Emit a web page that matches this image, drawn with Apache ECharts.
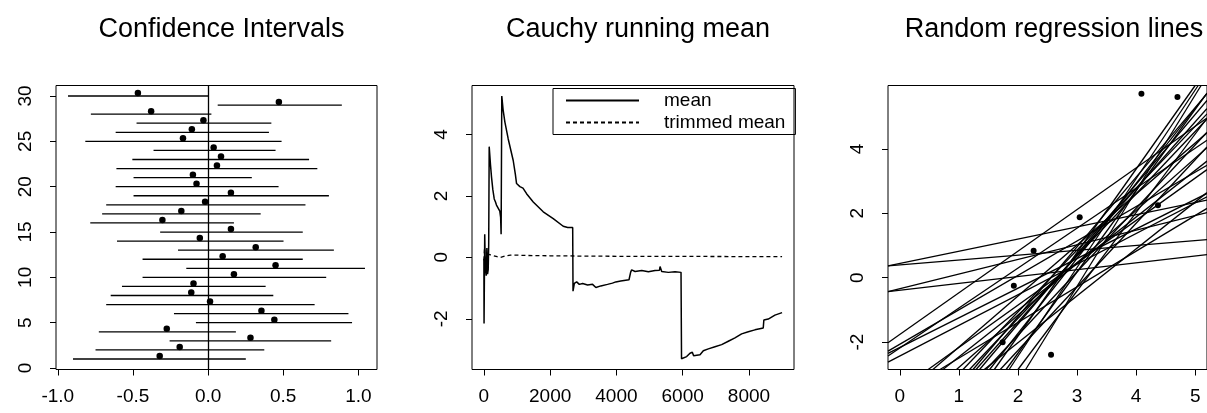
<!DOCTYPE html>
<html>
<head>
<meta charset="utf-8">
<script src="https://cdn.jsdelivr.net/npm/echarts@6.0.0/dist/echarts.min.js"></script>
<style>
  html, body { margin: 0; padding: 0; background: #fff; }
  #chart { width: 1207px; height: 413px; }
</style>
</head>
<body>
<div id="chart"></div>
<script>
// panel 1 : confidence intervals, sample 1..30 (bottom to top)
var ciLower = [-0.899, -0.749, -0.256, -0.727, -0.081, -0.227, -0.678, -0.648, -0.573, -0.436,
               -0.145, -0.436, -0.200, -0.606, -0.319, -0.784, -0.705, -0.678, -0.496, -0.615,
               -0.496, -0.610, -0.504, -0.363, -0.817, -0.615, -0.476, -0.780, 0.064, -0.932];
var ciUpper = [0.251, 0.374, 0.819, 0.185, 0.958, 0.934, 0.709, 0.434, 0.383, 0.786,
               1.044, 0.630, 0.837, 0.502, 0.630, 0.172, 0.350, 0.648, 0.804, 0.469,
               0.291, 0.727, 0.672, 0.449, 0.489, 0.405, 0.421, 0.022, 0.890, 0.000];
var ciMean = [-0.322, -0.189, 0.282, -0.275, 0.441, 0.355, 0.013, -0.112, -0.097, 0.172,
              0.449, 0.097, 0.317, -0.055, 0.152, -0.304, -0.178, -0.020, 0.152, -0.077,
              -0.101, 0.059, 0.086, 0.037, -0.167, -0.108, -0.031, -0.379, 0.471, -0.467];
var ciTicksX = [-1, -0.5, 0, 0.5, 1];
var ciTicksY = [0, 5, 10, 15, 20, 25, 30];

// panel 2 : cauchy running mean
var meanPts = [[0, -0.05], [5, -2.15], [25, 0.75], [40, -0.2], [70, -0.6], [90, 0.3], [110, -0.55],
  [130, -0.4], [145, 0.4], [160, 3.6], [200, 3.0], [231, 2.6], [270, 2.2], [312, 1.9], [350, 1.8],
  [380, 1.7], [430, 1.6], [480, 1.5], [505, 1.3], [520, 0.75], [540, 5.25], [580, 4.8], [634, 4.4],
  [734, 3.85], [885, 3.15], [950, 2.7], [986, 2.4], [1086, 2.3], [1180, 2.25], [1288, 2.07],
  [1489, 1.8], [1791, 1.48], [2093, 1.26], [2394, 1.01], [2530, 0.97], [2680, 0.97], [2690, -1.1],
  [2730, -0.85], [2800, -0.8], [2880, -0.88], [2980, -0.85], [3130, -0.9], [3280, -0.88],
  [3380, -0.98], [3530, -0.93], [3730, -0.88], [3880, -0.84], [3980, -0.8], [4130, -0.77],
  [4380, -0.73], [4430, -0.48], [4460, -0.41], [4563, -0.46], [4764, -0.43], [4965, -0.47],
  [5166, -0.43], [5300, -0.42], [5317, -0.3], [5367, -0.46], [5568, -0.49], [5769, -0.47],
  [5950, -0.49], [5965, -3.3], [6020, -3.31], [6120, -3.23], [6221, -3.12], [6291, -3.09],
  [6330, -3.2], [6523, -3.17], [6623, -3.04], [6774, -2.98], [6975, -2.91], [7176, -2.84],
  [7377, -2.73], [7578, -2.62], [7779, -2.49], [7980, -2.42], [8181, -2.36], [8432, -2.3],
  [8450, -2.04], [8583, -2.01], [8784, -1.88], [9000, -1.8]];
var trimPts = [[0, -0.1], [20, 0.3], [40, -0.3], [60, -0.5], [80, -0.2], [100, -0.45], [120, 0.1],
  [150, 0.12], [200, 0.08], [300, 0.05], [400, 0.02], [500, 0.0], [600, 0.03], [800, 0.07],
  [1000, 0.07], [1300, 0.06], [2000, 0.05], [3000, 0.04], [4500, 0.03], [6000, 0.03], [9000, 0.02]];
var cauchyTicksX = [0, 2000, 4000, 6000, 8000];
var cauchyTicksY = [-2, 0, 2, 4];

// panel 3 : random regression lines (intercept a, slope b)
var ptX = [1.74, 1.93, 2.265, 2.56, 3.045, 4.09, 4.37, 4.70];
var ptY = [-2.0, -0.25, 0.835, -2.39, 1.88, 5.71, 2.25, 5.61];
var lineA = [0.445, 0.40, -0.387, -0.339, -1.761, -2.066, -2.166, -2.182, -2.430, -3.481,
             -3.737, -3.603, -3.907, -4.410, -4.906, -5.133, -5.533, -5.524, -5.781, -5.726,
             -6.393, -7.0, -7.395, -7.949, -7.726, -9.176, -6.206, -4.933];
var lineB = [0.378, 0.151, 0.213, 0.454, 1.293, 1.069, 0.920, 1.241, 0.951, 1.315,
             1.584, 1.107, 1.448, 1.625, 1.922, 1.935, 2.164, 2.073, 2.171, 1.970,
             2.331, 2.594, 2.525, 2.756, 2.438, 2.970, 1.974, 1.457];
var regTicksX = [0, 1, 2, 3, 4, 5];
var regTicksY = [-2, 0, 2, 4];

var FONT = 'Liberation Sans, Arial, sans-serif';
var X3 = [-0.2, 5.2], Y3 = [-2.85, 5.97];

function xAx(idx, min, max, ticks, fmt) {
    return {
        type: 'value', gridIndex: idx, min: min, max: max,
        axisLine: {show: false, onZero: false},
        splitLine: {show: false},
        axisTick: {show: true, length: 6, customValues: ticks, lineStyle: {color: '#000', width: 1}},
        axisLabel: {customValues: ticks, color: '#000', fontFamily: FONT, fontSize: 19, margin: 18,
            formatter: fmt || function (v) { return String(v); }}
    };
}
function yAx(idx, min, max, ticks) {
    var a = xAx(idx, min, max, ticks);
    a.axisLabel.rotate = 90;
    a.axisLabel.margin = 21;
    return a;
}

var grid = [
    {left: 56, top: 85.5, width: 321, height: 284},
    {left: 472, top: 85.5, width: 322, height: 284},
    {left: 888, top: 85.5, width: 322, height: 284}
].map(function (g) {
    g.show = true; g.borderColor = '#000'; g.borderWidth = 1; g.containLabel = false;
    return g;
});

var ciData = ciMean.map(function (m, i) { return [ciLower[i], ciUpper[i], i + 1]; });
var ciDots = ciMean.map(function (m, i) { return [m, i + 1]; });
var regData = lineA.map(function (a, i) { return [a, lineB[i]]; });

var option = {
    animation: false,
    backgroundColor: '#fff',
    title: [
        {text: 'Confidence Intervals', left: 216.5, top: 11, textAlign: 'center'},
        {text: 'Cauchy running mean', left: 633, top: 11, textAlign: 'center'},
        {text: 'Random regression lines', left: 1049, top: 11, textAlign: 'center'}
    ].map(function (t) {
        t.textStyle = {color: '#000', fontFamily: FONT, fontSize: 27, fontWeight: 'normal'};
        return t;
    }),
    legend: {
        data: ['mean', 'trimmed mean'],
        orient: 'vertical', left: 553, top: 88.5,
        padding: [2, 10, 2, 12], itemGap: 2, itemWidth: 73, itemHeight: 14,
        borderColor: '#000', borderWidth: 1, borderRadius: 0,
        itemStyle: {opacity: 0},
        textStyle: {color: '#000', fontFamily: FONT, fontSize: 19, lineHeight: 20, padding: [0, 0, 0, 20]}
    },
    grid: grid,
    xAxis: [
        xAx(0, -1.012, 1.124, ciTicksX, function (v) { return v.toFixed(1); }),
        xAx(1, -359, 9360, cauchyTicksX),
        xAx(2, X3[0], X3[1], regTicksX)
    ],
    yAxis: [
        yAx(0, -0.16, 31.16, ciTicksY),
        yAx(1, -3.65, 5.59, cauchyTicksY),
        yAx(2, Y3[0], Y3[1], regTicksY)
    ],
    series: [
        {
            type: 'custom', xAxisIndex: 0, yAxisIndex: 0, data: ciData,
            encode: {x: [0, 1], y: 2},
            renderItem: function (params, api) {
                var p1 = api.coord([api.value(0), api.value(2)]);
                var p2 = api.coord([api.value(1), api.value(2)]);
                return {type: 'line', shape: {x1: p1[0], y1: p1[1], x2: p2[0], y2: p2[1]},
                    style: {stroke: '#000', lineWidth: 1.3}};
            },
            markLine: {
                silent: true, symbol: 'none', label: {show: false},
                lineStyle: {color: '#000', type: 'solid', width: 1.3},
                data: [{xAxis: 0}]
            }
        },
        {
            type: 'scatter', xAxisIndex: 0, yAxisIndex: 0, data: ciDots,
            symbol: 'circle', symbolSize: 6.5, symbolOffset: [0, -3],
            itemStyle: {color: '#000', opacity: 1}
        },
        {
            name: 'mean', type: 'line', xAxisIndex: 1, yAxisIndex: 1, data: meanPts,
            showSymbol: false, lineStyle: {color: '#000', width: 1.5}, itemStyle: {color: '#000'}
        },
        {
            name: 'trimmed mean', type: 'line', xAxisIndex: 1, yAxisIndex: 1, data: trimPts,
            showSymbol: false, lineStyle: {color: '#000', width: 1.3, type: [4, 3]},
            itemStyle: {color: '#000'}
        },
        {
            type: 'custom', xAxisIndex: 2, yAxisIndex: 2, data: regData,
            renderItem: function (params, api) {
                var a = api.value(0), b = api.value(1);
                var xa = (Y3[0] - a) / b, xb = (Y3[1] - a) / b;
                var xl = Math.max(X3[0], Math.min(xa, xb));
                var xr = Math.min(X3[1], Math.max(xa, xb));
                if (xl >= xr) return null;
                var p1 = api.coord([xl, a + b * xl]);
                var p2 = api.coord([xr, a + b * xr]);
                return {type: 'line', shape: {x1: p1[0], y1: p1[1], x2: p2[0], y2: p2[1]},
                    style: {stroke: '#000', lineWidth: 1.3}};
            }
        },
        {
            type: 'scatter', xAxisIndex: 2, yAxisIndex: 2,
            data: ptX.map(function (x, i) { return [x, ptY[i]]; }),
            symbol: 'circle', symbolSize: 6, itemStyle: {color: '#000', opacity: 1}
        }
    ]
};

var chart = echarts.init(document.getElementById('chart'), null, {renderer: 'canvas'});
chart.setOption(option);
</script>
</body>
</html>
